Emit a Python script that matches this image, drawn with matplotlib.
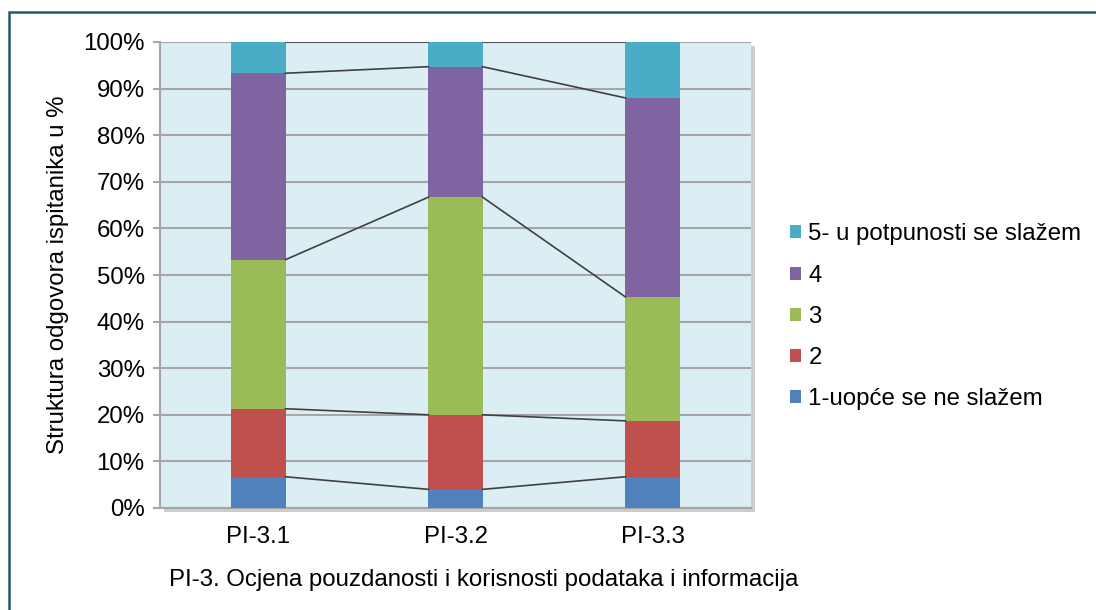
import numpy as np
import matplotlib.pyplot as plt
from matplotlib.patches import Rectangle
from matplotlib.ticker import FuncFormatter
import matplotlib.patheffects as pe

plt.rcParams['font.family'] = ['Liberation Sans', 'DejaVu Sans']

# podaci (% ispitanika po ocjeni)
kategorije = ['PI-3.1', 'PI-3.2', 'PI-3.3']
ocjena_1 = [6.7, 4.0, 6.7]
ocjena_2 = [14.6, 16.0, 12.0]
ocjena_3 = [32.0, 46.7, 26.6]
ocjena_4 = [40.0, 28.0, 42.7]
ocjena_5 = [6.7, 5.3, 12.0]

nazivi = ['1-uopće se ne slažem', '2', '3', '4', '5- u potpunosti se slažem']
boje = ['#4f81bd', '#c0504d', '#9bbb59', '#8064a2', '#4bacc6']
serije = [ocjena_1, ocjena_2, ocjena_3, ocjena_4, ocjena_5]

fs = 17.3
sirina = 0.275

fig = plt.figure(figsize=(10.96, 6.1), dpi=100)
ax = fig.add_axes([160 / 1096, 102 / 610, 591 / 1096, 466 / 610])
ax.set_facecolor('#dbeef4')
ax.patch.set_path_effects([pe.SimplePatchShadow(offset=(3, -3), shadow_rgbFace='#909090', alpha=0.45),
                           pe.Normal()])

x = np.arange(len(kategorije))
dno = np.zeros(len(kategorije))
for vrijednosti, naziv, boja in zip(serije, nazivi, boje):
    v = np.array(vrijednosti)
    ax.bar(x, v, sirina, bottom=dno, color=boja, label=naziv, zorder=3)
    dno = dno + v
    # spojne linije između stupaca
    for i in range(len(x) - 1):
        ax.plot([x[i] + sirina / 2, x[i + 1] - sirina / 2], [dno[i], dno[i + 1]],
                color='#404040', lw=1.2, zorder=4)

ax.set_xlim(-0.5, 2.5)
ax.set_ylim(0, 100)
ax.set_yticks(np.arange(0, 101, 10))
ax.yaxis.set_major_formatter(FuncFormatter(lambda v, p: '%d%%' % v))
ax.grid(axis='y', color='#a6a6a6', lw=1.5, zorder=1)
ax.set_xticks(x)
ax.set_xticklabels(kategorije)
ax.tick_params(axis='y', labelsize=fs, length=5, color='#a6a6a6', width=1.5, pad=6)
ax.tick_params(axis='x', labelsize=fs, length=0, pad=13)
for s in ['top', 'right']:
    ax.spines[s].set_visible(False)
for s in ['left', 'bottom']:
    ax.spines[s].set_color('#a6a6a6')
    ax.spines[s].set_linewidth(1.5)

ax.set_ylabel('Struktura odgovora ispitanika u %', fontsize=fs, labelpad=10)
ax.set_xlabel('PI-3. Ocjena pouzdanosti i korisnosti podataka i informacija', fontsize=fs)
ax.xaxis.set_label_coords(0.548, -0.131)

h, l = ax.get_legend_handles_labels()
ax.legend(h[::-1], l[::-1], loc='center left', bbox_to_anchor=(1.03, 0.41), frameon=False,
          fontsize=fs, handlelength=0.45, handleheight=0.45, handletextpad=0.3, labelspacing=0.8)

# okvir oko slike
fig.patches.append(Rectangle((9 / 1096, -0.1), 1.2, (598 / 610) + 0.1, transform=fig.transFigure,
                             fill=False, edgecolor='#24596a', lw=1.8))

fig.savefig('out.png', dpi=100)
